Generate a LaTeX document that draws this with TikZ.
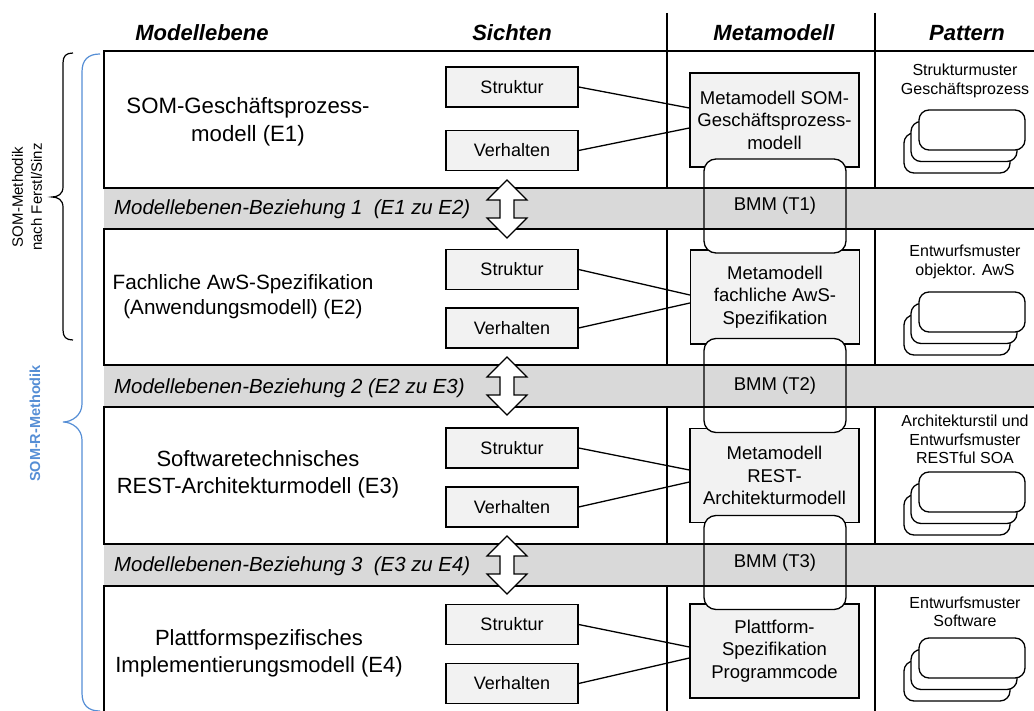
\documentclass[tikz,border=0pt]{standalone}
\usepackage{fontspec}
\setmainfont{Liberation Sans}
\usetikzlibrary{calc}
\definecolor{bandgray}{HTML}{D9D9D9}
\definecolor{boxgray}{HTML}{F2F2F2}
\definecolor{somblue}{RGB}{85,142,213}
\newcommand\fsz[2]{\fontsize{#1}{#2}\selectfont}
\begin{document}
\begin{tikzpicture}[x=1pt,y=-1pt,
  frame/.style={line width=1.4pt},
  sicht/.style={draw, line width=1.3pt, fill=boxgray, minimum width=132pt, minimum height=40pt, inner sep=0pt, font=\fsz{18}{21}},
  meta/.style={draw, line width=1.3pt, fill=boxgray, minimum width=169pt, minimum height=94pt, inner sep=0pt, align=center, font=\fsz{18.5}{22.5}},
  bmm/.style={draw, line width=1.3pt, rounded corners=12pt, minimum width=142pt, minimum height=94pt, inner sep=0pt, font=\fsz{18.5}{22}},
  bmmfill/.style={fill=white, rounded corners=12pt},
  conn/.style={line width=1.3pt},
  head/.style={font=\fsz{22}{26}\bfseries\itshape, anchor=base, inner sep=0pt},
  level/.style={align=center, inner sep=0pt, font=\fsz{22}{26.5}},
  bandtext/.style={anchor=base west, inner sep=0pt, font=\fsz{20.4}{24}\itshape},
  pat/.style={align=center, inner sep=0pt, font=\fsz{16}{18.5}},
  brace/.style={line width=1.2pt},
  stackbox/.style={draw, line width=1.3pt, fill=white, rounded corners=10pt},
  arrowline/.style={draw, line width=1.2pt, fill=white, line join=miter},
  dblarrow/.pic={\path[arrowline] (0,-29) -- (20,-9) -- (7,-9) -- (7,9) -- (20,9) -- (0,29) -- (-20,9) -- (-7,9) -- (-7,-9) -- (-20,-9) -- cycle;},
  stack/.pic={
    \path[stackbox] (-15,23) rectangle (91,63);
    \path[stackbox] (-8,11.5) rectangle (98,51.5);
    \path[stackbox] (0,0) rectangle (106,40);}
]
\useasboundingbox (0,0) rectangle (1034,711);

% column lines
\draw[frame] (667,13) -- (667,716);
\draw[frame] (875,13) -- (875,716);

% Sichten boxes
\node[sicht] (s1) at (512,87) {Struktur};
\node[sicht] (v1) at (512,150.5) {Verhalten};
\node[sicht] (s2) at (512,269.5) {Struktur};
\node[sicht] (v2) at (512,328) {Verhalten};
\node[sicht] (s3) at (512,448) {Struktur};
\node[sicht] (v3) at (512,507) {Verhalten};
\node[sicht] (s4) at (512,624.5) {Struktur};
\node[sicht] (v4) at (512,683.5) {Verhalten};

% Metamodell boxes
\node[meta] (m1) at (774.5,120) {Metamodell SOM-\\Geschäftsprozess-\\modell};
\node[meta] (m2) at (775,297) {Metamodell\\fachliche AwS-\\Spezifikation};
\node[meta] (m3) at (774.5,475.5) {Metamodell\\REST-\\Architekturmodell};
\node[meta] (m4) at (774.5,651) {Plattform-\\Spezifikation\\Programmcode};

% connectors
\draw[conn] (s1.east) -- ($(m1.west)+(0,-12)$);
\draw[conn] (v1.east) -- ($(m1.west)+(0,8)$);
\draw[conn] (s2.east) -- ($(m2.west)+(0,-2)$);
\draw[conn] (v2.east) -- ($(m2.west)+(0,6)$);
\draw[conn] (s3.east) -- ($(m3.west)+(0,-5.5)$);
\draw[conn] (v3.east) -- ($(m3.west)+(0,6.5)$);
\draw[conn] (s4.east) -- ($(m4.west)+(0,-4)$);
\draw[conn] (v4.east) -- ($(m4.west)+(0,7)$);

% white underlay of BMM frames
\fill[bmmfill] (704,159) rectangle (846,253);
\fill[bmmfill] (704,338.5) rectangle (846,432.5);
\fill[bmmfill] (704,515.5) rectangle (846,609.5);

% bands
\fill[bandgray] (104,188) rectangle (1040,229);
\fill[bandgray] (104,365) rectangle (1040,407);
\fill[bandgray] (104,544) rectangle (1040,586);

% rows
\draw[frame] (104,51) rectangle (1040,188);
\draw[frame] (104,229) rectangle (1040,365);
\draw[frame] (104,407) rectangle (1040,544);
\draw[frame] (104,586) rectangle (1040,716);

% BMM
\node[bmm] (t1) at (775,206) {BMM (T1)};
\node[bmm] (t2) at (775,385.5) {BMM (T2)};
\node[bmm] (t3) at (775,562.5) {BMM (T3)};

% double arrows
\pic at (507,209) {dblarrow};
\pic at (507,386) {dblarrow};
\pic at (507,565) {dblarrow};

% band texts
\node[bandtext] (bt1) at (114,215) {Modellebenen-Beziehung 1~~(E1 zu E2)};
\node[bandtext] (bt2) at (114,393) {Modellebenen-Beziehung 2 (E2 zu E3)};
\node[bandtext] (bt3) at (114,571.5) {Modellebenen-Beziehung 3~~(E3 zu E4)};

% level titles
\node[level, font=\fsz{22.2}{28}] (e1) at (248,122) {SOM-Geschäftsprozess-\\modell (E1)};
\node[level, font=\fsz{20.7}{25}] (e2) at (243,297) {Fachliche AwS-Spezifikation\\(Anwendungsmodell) (E2)};
\node[level] (e3) at (258,474.5) {Softwaretechnisches\\REST-Architekturmodell (E3)};
\node[level, font=\fsz{22}{27}] (e4) at (259,653) {Plattformspezifisches\\Implementierungsmodell (E4)};

% pattern
\node[pat] (p1) at (965,81) {Strukturmuster\\Geschäftsprozess};
\node[pat] (p2) at (965,262) {Entwurfsmuster\\objektor. AwS};
\node[pat] (p3) at (965,439.5) {Architekturstil und\\Entwurfsmuster\\RESTful SOA};
\node[pat] (p4) at (965,612) {Entwurfsmuster\\Software};
\pic at (919,110) {stack};
\pic at (919,292) {stack};
\pic at (919,472) {stack};
\pic at (919,638) {stack};

% headers
\node[head] (h1) at (202,41) {Modellebene};
\node[head] (h2) at (512,41) {Sichten};
\node[head] (h3) at (774,41) {Metamodell};
\node[head] (h4) at (967,41) {Pattern};

% braces
\draw[brace] (73,53) .. controls (66,53) and (63,56) .. (63,63) -- (63,187)
  .. controls (63,194) and (58,197) .. (52,197)
  .. controls (58,197) and (63,200) .. (63,207) -- (63,330)
  .. controls (63,337) and (66,340) .. (73,340);
\draw[brace, somblue] (100,54) .. controls (88,54) and (82,60) .. (82,72) -- (82,404)
  .. controls (82,415) and (72,422) .. (63,422)
  .. controls (72,422) and (82,429) .. (82,440) -- (82,693)
  .. controls (82,705) and (88,711) .. (100,711);
\node[rotate=90, align=center, inner sep=0pt, font=\fsz{15}{19}] (lab1) at (27,197) {SOM-Methodik\\nach Ferstl/Sinz};
\node[rotate=90, inner sep=0pt, font=\fsz{14.5}{17}\bfseries, text=somblue] (lab2) at (35,423.5) {SOM-R-Methodik};
\end{tikzpicture}
\end{document}
